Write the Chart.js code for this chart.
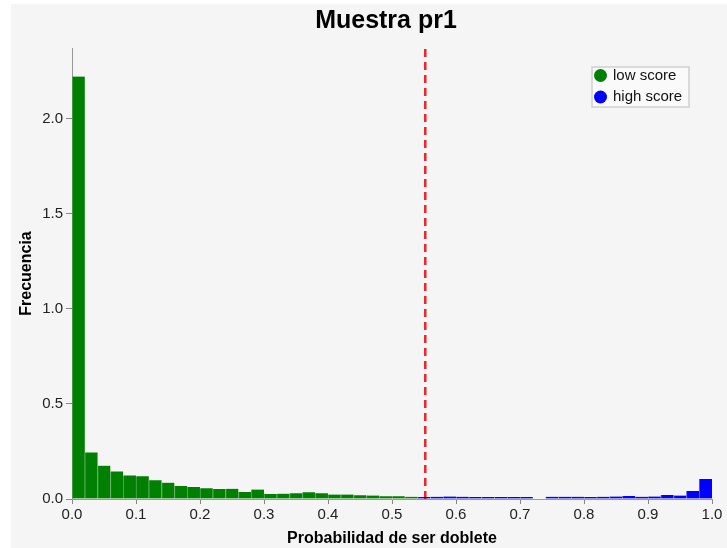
<!DOCTYPE html>
<html>
<head>
<meta charset="utf-8">
<title>Muestra pr1</title>
<script src="https://cdn.jsdelivr.net/npm/chart.js@4.4.1/dist/chart.umd.min.js"></script>
<style>
  html, body { margin: 0; padding: 0; background: #fff; }
  #wrap { width: 727px; height: 548px; position: relative; }
</style>
</head>
<body>
<div id="wrap"><canvas id="histChart"></canvas></div>
<script>
// histogram bins (width 0.02), centres
const binCenters = [
  0.01, 0.03, 0.05, 0.07, 0.09, 0.11, 0.13, 0.15, 0.17, 0.19,
  0.21, 0.23, 0.25, 0.27, 0.29, 0.31, 0.33, 0.35, 0.37, 0.39,
  0.41, 0.43, 0.45, 0.47, 0.49, 0.51, 0.53, 0.55, 0.57, 0.59,
  0.61, 0.63, 0.65, 0.67, 0.69, 0.71, 0.73, 0.75, 0.77, 0.79,
  0.81, 0.83, 0.85, 0.87, 0.89, 0.91, 0.93, 0.95, 0.97, 0.99
];

// first 27 bins -> low score
const lowScore = [
  2.22, 0.245, 0.175, 0.145, 0.124, 0.119, 0.098, 0.086, 0.068, 0.063,
  0.056, 0.053, 0.054, 0.037, 0.05, 0.026, 0.028, 0.03, 0.035, 0.03,
  0.023, 0.023, 0.02, 0.018, 0.015, 0.015, 0.012
];

// remaining 23 bins -> high score
const highScore = [
  0.011, 0.012, 0.013, 0.012, 0.011, 0.011, 0.011, 0.01, 0.011, 0,
  0.012, 0.012, 0.012, 0.011, 0.012, 0.013, 0.016, 0.012, 0.013, 0.021,
  0.018, 0.042, 0.105
];

const threshold = 0.552;
const xTicks = [0.0, 0.1, 0.2, 0.3, 0.4, 0.5, 0.6, 0.7, 0.8, 0.9, 1.0];
const yTicks = [0.0, 0.5, 1.0, 1.5, 2.0];
const yMax = 2.37;
const chartTitle = "Muestra pr1";

const lowData = lowScore.map((v, i) => ({ x: binCenters[i], y: v }));
const highData = highScore.map((v, i) => ({ x: binCenters[lowScore.length + i], y: v }));

Chart.defaults.font.family = "'Liberation Sans', Arial, sans-serif";
Chart.defaults.color = "#222";

// light grey page like the original figure
const bgPlugin = {
  id: "bgPlugin",
  beforeDraw(chart) {
    const ctx = chart.ctx;
    ctx.save();
    ctx.fillStyle = "#ffffff";
    ctx.fillRect(0, 0, chart.width, chart.height);
    ctx.fillStyle = "#f5f5f5";
    ctx.fillRect(11, 4, chart.width - 11, chart.height - 4);
    ctx.restore();
  },
};

// title centred over the plot area rather than the whole canvas
const plotTitle = {
  id: "plotTitle",
  afterDraw(chart) {
    const ctx = chart.ctx;
    const area = chart.chartArea;
    ctx.save();
    ctx.font = "bold 25px 'Liberation Sans', Arial, sans-serif";
    ctx.fillStyle = "#000";
    ctx.textAlign = "center";
    ctx.textBaseline = "middle";
    ctx.fillText(chartTitle, (area.left + area.right) / 2 - 6, 21);
    ctx.restore();
  },
};

// boxed legend in the upper right of the plot
const legendBox = {
  id: "legendBox",
  afterDraw(chart) {
    const ctx = chart.ctx;
    const area = chart.chartArea;
    const items = chart.data.datasets.filter((d) => d.type === "bar");
    const right = area.right - 23;
    const top = area.top + 19;
    const w = 97;
    const rowH = 21.5;
    const h = rowH * items.length - 3;
    const left = right - w;

    ctx.save();
    ctx.fillStyle = "#fafafa";
    ctx.strokeStyle = "#cfcfcf";
    ctx.lineWidth = 1.5;
    ctx.fillRect(left, top, w, h);
    ctx.strokeRect(left, top, w, h);

    ctx.font = "15px 'Liberation Sans', Arial, sans-serif";
    ctx.textBaseline = "middle";
    items.forEach((d, i) => {
      const cy = top + 8.5 + i * rowH;
      ctx.beginPath();
      ctx.arc(left + 8.5, cy, 6.5, 0, Math.PI * 2);
      ctx.fillStyle = d.backgroundColor;
      ctx.fill();
      ctx.fillStyle = "#111";
      ctx.fillText(d.label, left + 21, cy);
    });
    ctx.restore();
  },
};

const ctx = document.getElementById("histChart").getContext("2d");

const histChart = new Chart(ctx, {
  type: "bar",
  data: {
    datasets: [
      {
        type: "bar",
        label: "low score",
        data: lowData,
        backgroundColor: "#008000",
        borderColor: "#5fa85f",
        borderWidth: { left: 1, right: 0, top: 0, bottom: 0 },
        borderSkipped: false,
        barPercentage: 1,
        categoryPercentage: 1,
        grouped: false,
      },
      {
        type: "bar",
        label: "high score",
        data: highData,
        backgroundColor: "#0000ff",
        borderColor: "#6060f0",
        borderWidth: { left: 1, right: 0, top: 0, bottom: 0 },
        borderSkipped: false,
        barPercentage: 1,
        categoryPercentage: 1,
        grouped: false,
      },
      {
        type: "line",
        label: "threshold",
        data: [{ x: threshold, y: 0 }, { x: threshold, y: yMax }],
        borderColor: "#e8262b",
        borderWidth: 2.5,
        borderDash: [8, 5],
        pointRadius: 0,
        fill: false,
      },
    ],
  },
  options: {
    responsive: true,
    maintainAspectRatio: false,
    animation: false,
    layout: { padding: { left: 0, right: 15, top: 48, bottom: 0 } },
    plugins: {
      legend: { display: false },
      tooltip: { enabled: false },
      title: { display: false },
    },
    scales: {
      x: {
        type: "linear",
        min: 0,
        max: 1,
        offset: false,
        afterBuildTicks: (scale) => {
          scale.ticks = xTicks.map((v) => ({ value: v }));
        },
        afterFit: (scale) => {
          scale.height = 49;
        },
        ticks: {
          autoSkip: false,
          maxRotation: 0,
          padding: 2,
          font: { size: 15 },
          callback: (v) => Number(v).toFixed(1),
        },
        grid: {
          display: true,
          offset: false,
          drawOnChartArea: false,
          drawTicks: true,
          tickLength: 5,
          tickColor: "#888",
        },
        border: { display: true, color: "#999", width: 1 },
        title: {
          display: true,
          text: "Probabilidad de ser doblete",
          color: "#000",
          font: { size: 16, weight: "bold" },
          padding: { top: 0, bottom: 0 },
        },
      },
      y: {
        min: 0,
        max: yMax,
        afterBuildTicks: (scale) => {
          scale.ticks = yTicks.map((v) => ({ value: v }));
        },
        afterFit: (scale) => {
          scale.width = 72;
        },
        ticks: {
          padding: 3,
          font: { size: 15 },
          callback: (v) => Number(v).toFixed(1),
        },
        grid: {
          display: true,
          drawOnChartArea: false,
          drawTicks: true,
          tickLength: 6,
          tickColor: "#888",
        },
        border: { display: true, color: "#999", width: 1 },
        title: {
          display: true,
          text: "Frecuencia",
          color: "#000",
          font: { size: 16, weight: "bold" },
          padding: { top: 17, bottom: 0 },
        },
      },
    },
  },
  plugins: [bgPlugin, plotTitle, legendBox],
});
</script>
</body>
</html>
